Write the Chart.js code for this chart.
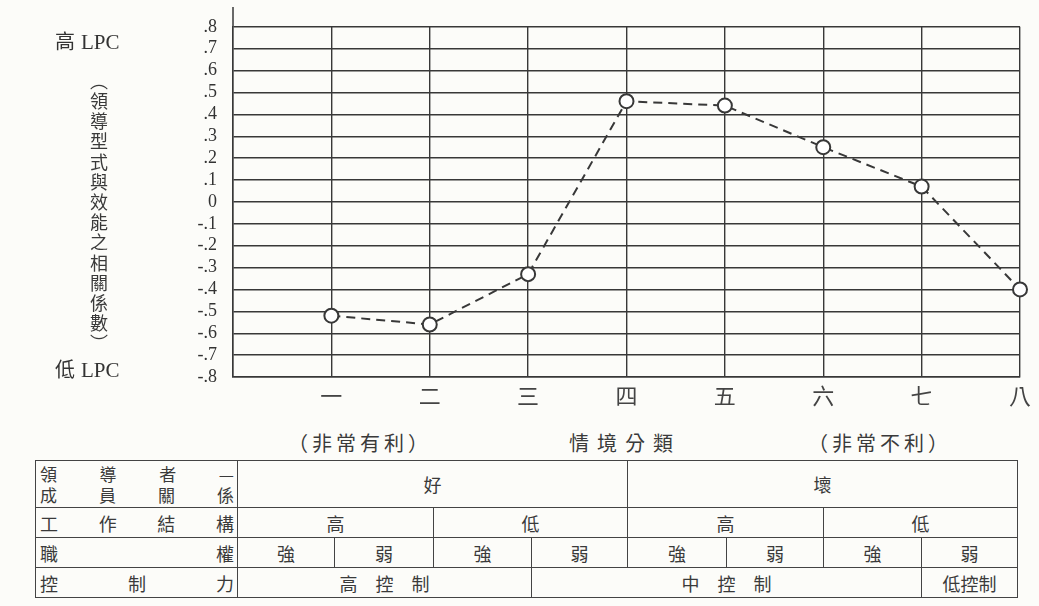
<!DOCTYPE html>
<html>
<head>
<meta charset="utf-8">
<script src="https://cdn.jsdelivr.net/npm/chart.js@4.4.1/dist/chart.umd.min.js"></script>
<style>
  body { margin: 0; width: 1039px; height: 606px; position: relative; overflow: hidden;
         background: #fcfcf9; font-family: "Noto Sans CJK TC", sans-serif; color: #333; }
  #wrap { position: absolute; left: 0; top: 0; width: 1039px; height: 410px; }
  .lpc { position: absolute; left: 55px; font: 21px "Liberation Serif", serif; color: #333; }
  .lpc span { font-family: "Noto Sans CJK TC", sans-serif; font-size: 20px; margin-right: 6px; }
  #vtitle { position: absolute; left: 89px; top: 72px; writing-mode: vertical-rl;
            font-size: 18px; line-height: 20px; letter-spacing: 2.2px; color: #3a3a3a; }
  .head { position: absolute; top: 428px; font-size: 20px; color: #3a3a3a; white-space: nowrap; letter-spacing: 4px; }
  table { position: absolute; left: 35px; top: 460px; width: 982px; border-collapse: collapse;
          table-layout: fixed; font-size: 18px; color: #3a3a3a; }
  td { border: 1.5px solid #444; text-align: center; padding: 0; height: 29px; line-height: 20px; }
  td.lab { padding: 0 3px 0 4px; }
  .just { display: flex; justify-content: space-between; }
  .two { font-size: 17px; line-height: 21px; }
</style>
</head>
<body>
<div id="wrap"><canvas id="lpc-chart" width="1039" height="410"></canvas></div>
<div class="lpc" style="top:26px"><span>高</span>LPC</div>
<div class="lpc" style="top:354px"><span>低</span>LPC</div>
<div id="vtitle">︵領導型式與效能之相關係數︶</div>
<div class="head" style="left:288px">（非常有利）</div>
<div class="head" style="left:569px;letter-spacing:8px">情境分類</div>
<div class="head" style="left:808px">（非常不利）</div>
<table id="sit-table"></table>

<script>
// 八種情境下 LPC 與效能的相關
const xLabels = ['一', '二', '三', '四', '五', '六', '七', '八']
const lpcCorr = [-0.52, -0.56, -0.33, 0.46, 0.44, 0.25, 0.07, -0.40]

const yTicks = [-0.8, -0.7, -0.6, -0.5, -0.4, -0.3, -0.2, -0.1, 0, 0.1, 0.2, 0.3, 0.4, 0.5, 0.6, 0.7, 0.8]
const yTickLabels = ['-.8', '-.7', '-.6', '-.5', '-.4', '-.3', '-.2', '-.1', '0', '.1', '.2', '.3', '.4', '.5', '.6', '.7', '.8']

// 情境分類表
const rowHeads = [['領', '導', '者', '—', '成', '員', '關', '係'], ['工', '作', '結', '構'], ['職', '權'], ['控', '制', '力']]
const relationCells = [['好', 4], ['壞', 4]]
const structureCells = [['高', 2], ['低', 2], ['高', 2], ['低', 2]]
const powerCells = [['強', 1], ['弱', 1], ['強', 1], ['弱', 1], ['強', 1], ['弱', 1], ['強', 1], ['弱', 1]]
const controlCells = [['高控制', 3], ['中控制', 4], ['低控制', 1]]

const ink = '#383838'

// left axis line goes a bit above the .8 line
const axisExtend = {
    id: 'axisExtend',
    afterDraw(chart) {
        const ctx = chart.ctx
        const a = chart.chartArea
        ctx.save()
        ctx.strokeStyle = ink
        ctx.lineWidth = 1.5
        ctx.beginPath()
        ctx.moveTo(a.left, 7)
        ctx.lineTo(a.left, a.top)
        ctx.stroke()
        ctx.restore()
    }
}

const ctx = document.getElementById('lpc-chart').getContext('2d')
new Chart(ctx, {
    type: 'line',
    data: {
        labels: [''].concat(xLabels),
        datasets: [{
            data: [null].concat(lpcCorr),
            borderColor: ink,
            borderWidth: 2,
            borderDash: [9, 6],
            pointRadius: 7,
            pointHoverRadius: 7,
            pointBorderWidth: 2,
            pointBackgroundColor: '#fff',
            pointBorderColor: ink,
            tension: 0
        }]
    },
    options: {
        responsive: false,
        animation: false,
        layout: { padding: { left: 0, right: 19, top: 24, bottom: 0 } },
        plugins: { legend: { display: false }, tooltip: { enabled: false } },
        scales: {
            x: {
                offset: false,
                afterFit(scale) { scale.height = 33 },
                grid: { color: ink, lineWidth: 1.4, drawTicks: false },
                border: { color: ink, width: 1.5 },
                ticks: {
                    padding: 5,
                    color: '#444',
                    maxRotation: 0,
                    autoSkip: false,
                    font: { family: '"Noto Sans CJK TC"', size: 22 }
                }
            },
            y: {
                min: -0.8,
                max: 0.8,
                afterFit(scale) { scale.width = 233 },
                afterBuildTicks(scale) { scale.ticks = yTicks.map(v => ({ value: v })) },
                grid: { color: ink, lineWidth: 1.4, drawTicks: false },
                border: { color: ink, width: 1.5 },
                ticks: {
                    padding: 16,
                    color: '#333',
                    autoSkip: false,
                    font: { family: '"Liberation Serif"', size: 18 },
                    callback: (v, i) => yTickLabels[i]
                }
            }
        }
    },
    plugins: [axisExtend]
})

// build the table under the chart
const colWidths = [202, 97, 99, 98, 96, 99, 97, 98, 96]
const rowHeights = [46, 29, 29, 29]
const table = document.getElementById('sit-table')
const cg = document.createElement('colgroup')
colWidths.forEach(w => {
    const c = document.createElement('col')
    c.style.width = w + 'px'
    cg.appendChild(c)
})
table.appendChild(cg)

const bodyRows = [relationCells, structureCells, powerCells, controlCells]
bodyRows.forEach((cells, r) => {
    const tr = document.createElement('tr')
    const lab = document.createElement('td')
    lab.className = 'lab'
    lab.style.height = rowHeights[r] + 'px'
    const chars = rowHeads[r]
    if (chars.length === 8) {
        // two lines for 領導者—成員關係
        ;[chars.slice(0, 4), chars.slice(4)].forEach(line => {
            const d = document.createElement('div')
            d.className = 'just two'
            line.forEach(ch => { const s = document.createElement('span'); s.textContent = ch; d.appendChild(s) })
            lab.appendChild(d)
        })
    } else {
        const d = document.createElement('div')
        d.className = 'just'
        chars.forEach(ch => { const s = document.createElement('span'); s.textContent = ch; d.appendChild(s) })
        lab.appendChild(d)
    }
    tr.appendChild(lab)
    cells.forEach(([txt, span]) => {
        const td = document.createElement('td')
        td.colSpan = span
        td.textContent = txt
        if (txt.length === 3 && span > 1) td.style.letterSpacing = '18px'
        if (txt.length === 3 && span > 1) td.style.paddingLeft = '18px'
        tr.appendChild(td)
    })
    table.appendChild(tr)
})
</script>
</body>
</html>
